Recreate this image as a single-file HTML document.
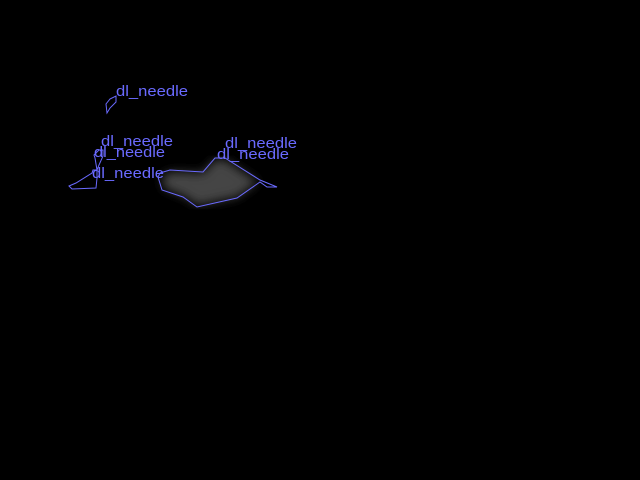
<!DOCTYPE html>
<html><head><style>html,body{margin:0;padding:0;background:#000;width:640px;height:480px;overflow:hidden}</style></head>
<body>
<svg width="640" height="480" xmlns="http://www.w3.org/2000/svg">
<defs><filter id="b"><feGaussianBlur stdDeviation="5"/></filter></defs>
<rect width="640" height="480" fill="#000"/>
<polygon points="162,176 172,172 203,173 215,160 225,160 258,182 237,197 198,205 184,196 164,188" fill="#444" filter="url(#b)"/>
<g fill="none" stroke="#6a6aff" stroke-width="1">
<polygon points="110,99 116,96 116,102 110,108 107,113 106,104"/>
<polygon points="69,186 76,183 92,173 93,170 97,170 97,178 96,188 72,189"/>
<polygon points="94,155 99,150 103,150 103,156 99,165 97,170 95,158"/>
<polygon points="160,173 170,170 203,172 215,158 225,158 260,180 277,187 267,187 260,182 237,198 197,207 183,197 162,190 158,177"/>
</g>
<g fill="#6a6aff" font-family="Liberation Sans, sans-serif" font-size="15">
<text x="116" y="96" textLength="72" lengthAdjust="spacingAndGlyphs">dl_needle</text>
<text x="101" y="146" textLength="72" lengthAdjust="spacingAndGlyphs">dl_needle</text>
<text x="94" y="157" textLength="71" lengthAdjust="spacingAndGlyphs">dl_needle</text>
<text x="92" y="178" textLength="72" lengthAdjust="spacingAndGlyphs">dl_needle</text>
<text x="225" y="148" textLength="72" lengthAdjust="spacingAndGlyphs">dl_needle</text>
<text x="217" y="159" textLength="72" lengthAdjust="spacingAndGlyphs">dl_needle</text>
</g>
</svg>
</body></html>
